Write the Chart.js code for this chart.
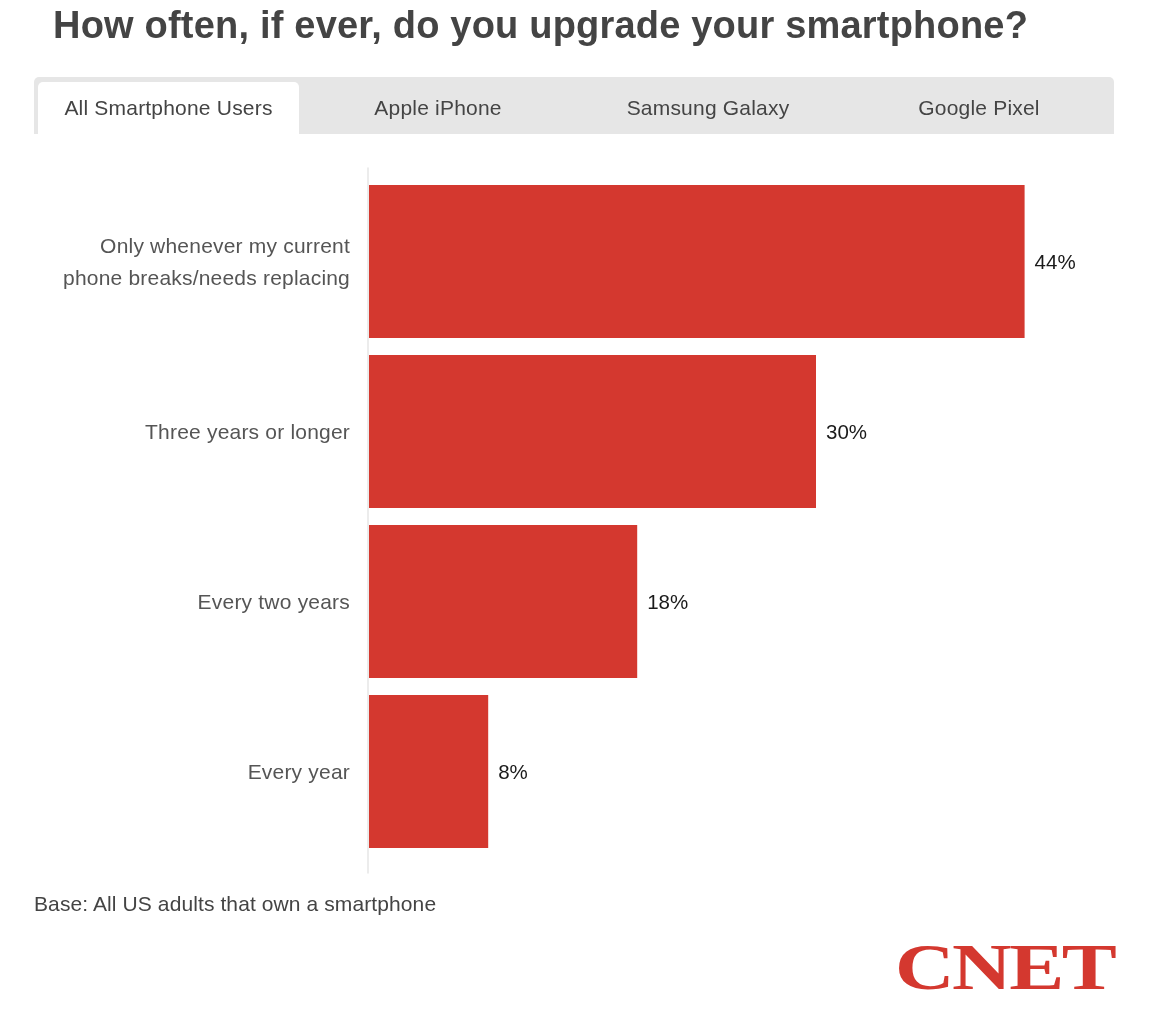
<!DOCTYPE html>
<html>
<head>
<meta charset="utf-8">
<script src="https://cdn.jsdelivr.net/npm/chart.js@4/dist/chart.umd.min.js"></script>
<style>
  html, body { margin:0; padding:0; background:#fff; }
  body { width:1176px; height:1024px; position:relative; overflow:hidden; font-family:"Liberation Sans", Arial, sans-serif; }
  #title { position:absolute; left:53px; top:4px; font-size:38px; font-weight:bold; color:#444; white-space:nowrap; letter-spacing:0.2px; }
  #tabs { position:absolute; left:34px; top:77px; width:1080px; height:57px; background:#e6e6e6; border-radius:5px 5px 0 0; }
  .tab { position:absolute; top:0; height:57px; line-height:61px; font-size:21px; letter-spacing:0.2px; color:#444; text-align:center; }
  .tab.active { background:#fff; top:5px; height:52px; line-height:51px; border-radius:5px 5px 0 0; }
  #foot { position:absolute; left:34px; top:892px; font-size:21px; letter-spacing:0.1px; color:#444; white-space:nowrap; }
  #logo { position:absolute; left:895px; top:930px; font-family:"Liberation Serif", serif; font-weight:bold; font-size:65px; line-height:1.15; color:#d4382f; transform:scaleX(1.27); transform-origin:left top; letter-spacing:-2px; }
  #c { position:absolute; left:0; top:0; }
</style>
</head>
<body>
<canvas id="c" width="1176" height="1024"></canvas>
<div id="title">How often, if ever, do you upgrade your smartphone?</div>
<div id="tabs"></div>
<div id="foot">Base: All US adults that own a smartphone</div>
<div id="logo">CNET</div>
<script>
const tabNames = ["All Smartphone Users", "Apple iPhone", "Samsung Galaxy", "Google Pixel"];
const categories = [["Only whenever my current", "phone breaks/needs replacing"], "Three years or longer", "Every two years", "Every year"];
const values = [44, 30, 18, 8];

// tabs
const tabsEl = document.getElementById('tabs');
const tabLefts = [4, 274, 544, 810];
const tabWidths = [261, 260, 260, 270];
tabNames.forEach((n, i) => {
  const d = document.createElement('div');
  d.className = 'tab' + (i === 0 ? ' active' : '');
  d.style.left = tabLefts[i] + 'px';
  d.style.width = tabWidths[i] + 'px';
  d.textContent = n;
  tabsEl.appendChild(d);
});

const spacing = {
  id: 'spacing',
  beforeDraw(chart) { chart.ctx.letterSpacing = '0.2px'; },
  afterDraw(chart) { chart.ctx.letterSpacing = '0px'; }
};

const extras = {
  id: 'extras',
  afterDatasetsDraw(chart) {
    const ctx = chart.ctx;
    const meta = chart.getDatasetMeta(0);
    const area = chart.chartArea;
    const x0 = chart.scales.x.getPixelForValue(0);
    ctx.save();
    ctx.strokeStyle = '#ececec';
    ctx.lineWidth = 2;
    ctx.beginPath();
    ctx.moveTo(x0 - 1, area.top - 9);
    ctx.lineTo(x0 - 1, area.bottom + 17);
    ctx.stroke();
    ctx.fillStyle = '#1a1a1a';
    ctx.letterSpacing = '0px';
    ctx.font = '20.5px "Liberation Sans", Arial, sans-serif';
    ctx.textAlign = 'left';
    ctx.textBaseline = 'middle';
    meta.data.forEach((bar, i) => {
      ctx.fillText(values[i] + '%', bar.x + 10, bar.y + 2);
    });
    ctx.restore();
  }
};

new Chart(document.getElementById('c'), {
  type: 'bar',
  data: {
    labels: categories,
    datasets: [{
      data: values,
      backgroundColor: '#d4382f',
      borderWidth: 0,
      categoryPercentage: 0.9,
      barPercentage: 1.0
    }]
  },
  options: {
    indexAxis: 'y',
    responsive: false,
    animation: false,
    devicePixelRatio: 1,
    layout: { padding: { left: 0, top: 176.5, right: 62, bottom: 167.5 } },
    plugins: { legend: { display: false }, tooltip: { enabled: false } },
    scales: {
      x: { display: false, min: 0, max: 50 },
      y: {
        afterFit(scale) { scale.width = 369; },
        grid: { display: false, drawTicks: false },
        border: { display: false },
        ticks: {
          padding: 19,
          labelOffset: 1.5,
          color: '#555',
          font: { size: 21, family: '"Liberation Sans", Arial, sans-serif', lineHeight: 1.52 }
        }
      }
    }
  },
  plugins: [spacing, extras]
});
</script>
</body>
</html>
